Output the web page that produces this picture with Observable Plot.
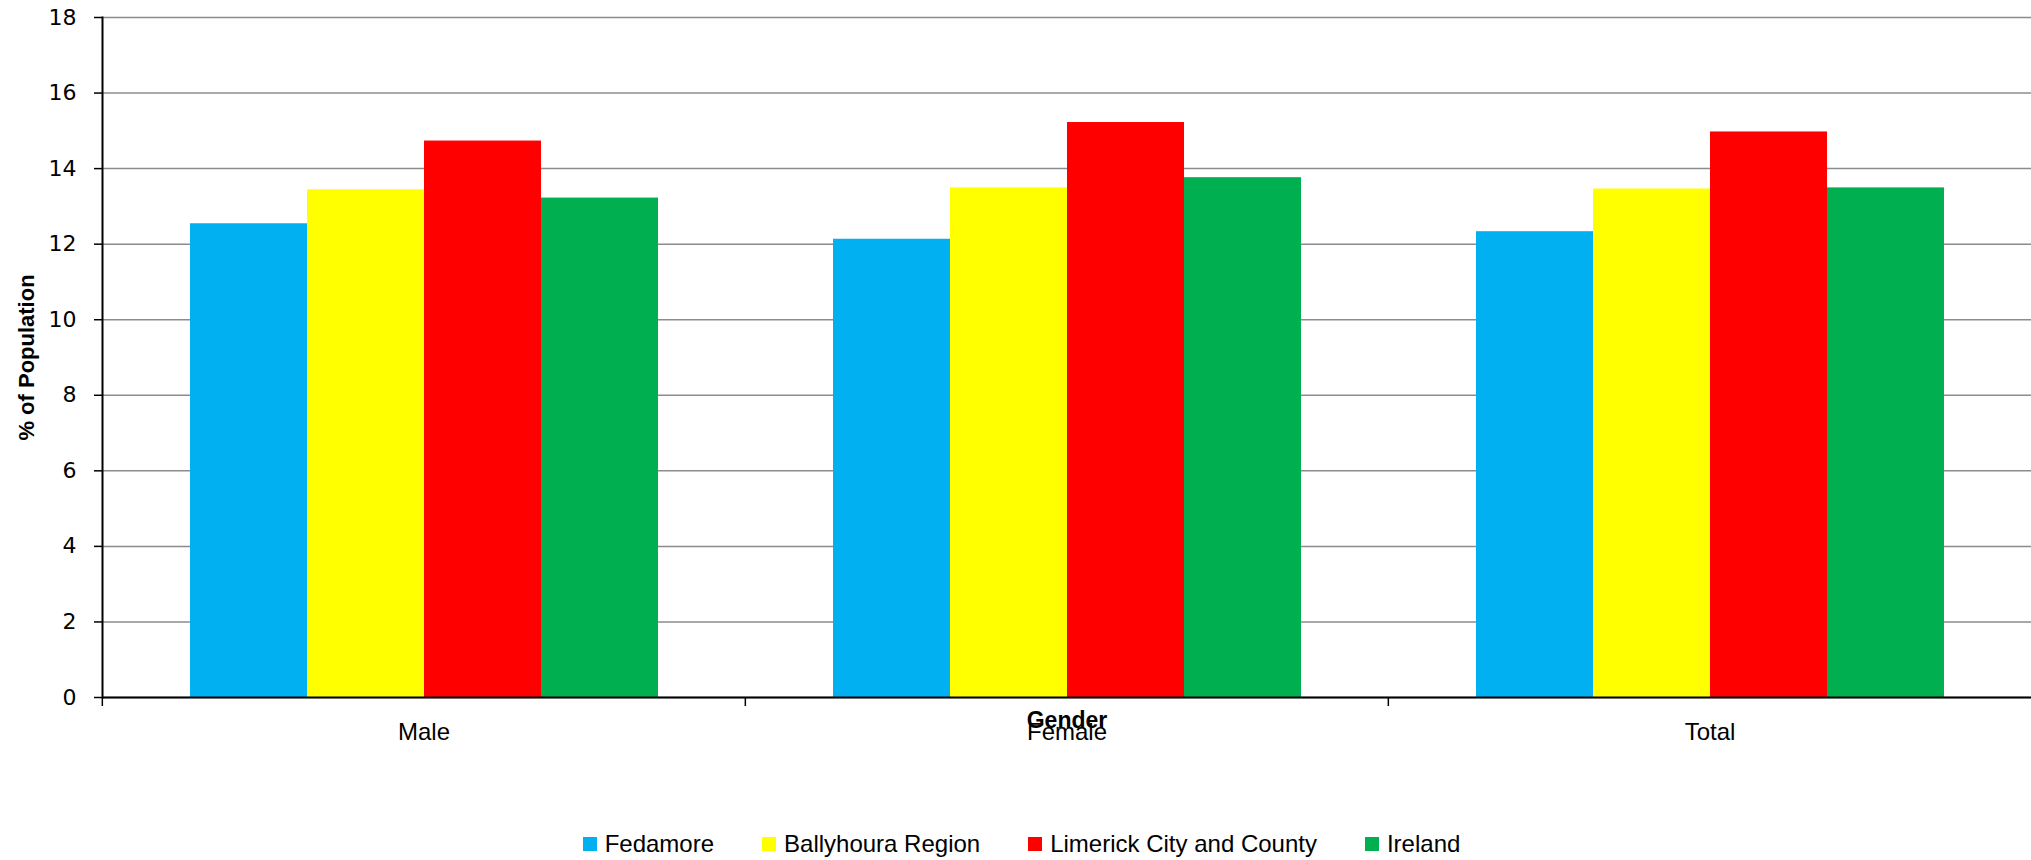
<!DOCTYPE html>
<html>
<head>
<meta charset="utf-8">
<script src="https://cdn.jsdelivr.net/npm/d3@7"></script>
<script src="https://cdn.jsdelivr.net/npm/@observablehq/plot@0.6"></script>
<style>
  html, body { margin: 0; padding: 0; background: white; }
  #chart svg { display: block; }
  #legend {
    display: flex; justify-content: center; align-items: center;
    height: 36px; font-family: "Liberation Sans", sans-serif;
    font-size: 24px; color: black; gap: 48px; padding-left: 12px;
  }
  #legend .item { display: flex; align-items: center; }
  #legend .sw { width: 14px; height: 14px; margin-right: 8px; }
</style>
</head>
<body>
<div id="chart"></div>
<div id="legend"></div>
<script>
const categories = ["Male", "Female", "Total"];
const seriesNames = ["Fedamore", "Ballyhoura Region", "Limerick City and County", "Ireland"];
const fedamore   = [12.54, 12.13, 12.33];
const ballyhoura = [13.44, 13.49, 13.46];
const limerick   = [14.73, 15.22, 14.97];
const ireland    = [13.22, 13.76, 13.49];
const seriesColors = ["#00B0F0", "#FFFF00", "#FF0000", "#00B050"];
const yTicks = [0, 2, 4, 6, 8, 10, 12, 14, 16, 18];
const yLabel = "% of Population";
const xLabel = "Gender";

const seriesValues = [fedamore, ballyhoura, limerick, ireland];
const rows = categories.flatMap((c, i) =>
  seriesValues.map((vals, j) => ({category: c, series: seriesNames[j], value: vals[i]})));

const W = 2031, H = 826, ML = 101, MR = 0, MT = 17, MB = 129;
const halfFacet = (W - ML - MR) / categories.length / 2;
const sans = "'Liberation Sans', sans-serif";

const chart = Plot.plot({
  width: W, height: H,
  marginLeft: ML, marginRight: MR, marginTop: MT, marginBottom: MB,
  style: {fontFamily: "DejaVu Sans, sans-serif", fontSize: "22px", color: "black", background: "white"},
  fx: {domain: categories, padding: 0},
  x: {domain: seriesNames, paddingInner: 0, paddingOuter: 0.746, axis: null},
  y: {domain: [0, 18]},
  color: {domain: seriesNames, range: seriesColors},
  marks: [
    Plot.gridY(yTicks, {stroke: "#8c8c8c", strokeOpacity: 1, strokeWidth: 1.5}),
    Plot.barY(rows, {fx: "category", x: "series", y: "value", fill: "series"}),
    Plot.ruleY([0], {stroke: "black", strokeWidth: 2}),
    Plot.axisY(yTicks, {tickSize: 8, tickPadding: 18, label: null, strokeWidth: 1.5, fontSize: 22}),
    Plot.frame({anchor: "left", facet: "super", stroke: "black", strokeWidth: 2}),
    Plot.axisFx({anchor: "bottom", tickSize: 0, tickPadding: 25, label: null, fontFamily: sans, fontSize: 24}),
    Plot.axisFx({anchor: "bottom", tickSize: 9, text: null, label: null, dx: -halfFacet, strokeWidth: 1.5}),
    Plot.text([yLabel], {text: d => d, facet: "super", frameAnchor: "left", dx: -76, rotate: -90,
      textAnchor: "middle", lineAnchor: "middle", fontWeight: "bold", fontFamily: sans, fontSize: 22}),
    Plot.text([xLabel], {text: d => d, facet: "super", frameAnchor: "bottom", dy: 23,
      textAnchor: "middle", lineAnchor: "middle", fontWeight: "bold", fontFamily: sans, fontSize: 23})
  ]
});
document.getElementById("chart").append(chart);

const legend = document.getElementById("legend");
seriesNames.forEach((name, i) => {
  const item = document.createElement("div");
  item.className = "item";
  const sw = document.createElement("div");
  sw.className = "sw";
  sw.style.background = seriesColors[i];
  const label = document.createElement("span");
  label.textContent = name;
  item.append(sw, label);
  legend.append(item);
});
</script>
</body>
</html>
